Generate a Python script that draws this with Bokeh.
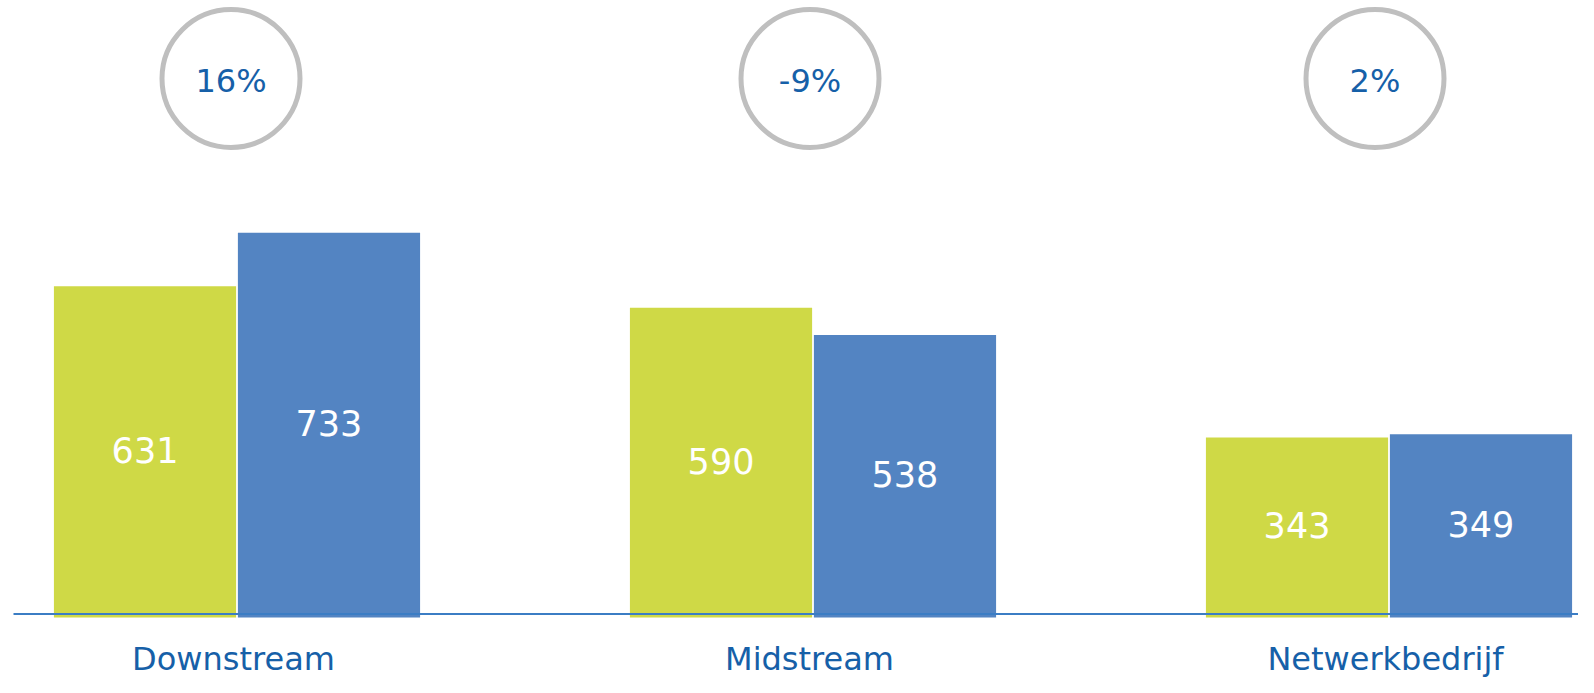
from bokeh.plotting import figure
from bokeh.models import Range1d, ColumnDataSource
from bokeh.core.properties import value
from bokeh.embed import file_html
from bokeh.resources import INLINE

# ---- data ----
categories = ["Downstream", "Midstream", "Netwerkbedrijf"]
series_prev = [631, 590, 343]   # green
series_curr = [733, 538, 349]   # blue
changes = ["16%", "-9%", "2%"]

# ---- layout / style ----
W, H = 1578, 677
PX_X = 576.0            # px per category unit
PX_Y = 0.525            # px per value unit
ZERO_FIG_Y = 617        # figure px of value 0
X0 = -236.5 / PX_X
X1 = X0 + W / PX_X
Y1 = ZERO_FIG_Y / PX_Y
Y0 = -(H - ZERO_FIG_Y) / PX_Y
def py(px):  # px -> value units
    return px / PX_Y

GREEN = "#CFD946"
BLUE = "#5384C2"
TEXT_BLUE = "#1660A8"
RING = "#BFBFBF"
FONT = value("DejaVu Sans")

p = figure(width=W, height=H, x_range=Range1d(X0, X1), y_range=Range1d(Y0, Y1),
           output_backend="svg", toolbar_location=None, min_border=0,
           x_axis_location=None, y_axis_location=None,
           outline_line_color=None, background_fill_color="white")
p.grid.visible = False

idx = list(range(len(categories)))
dodge = 0.1597
bw = 0.3163
label_shift = -3.5 / PX_X

src = ColumnDataSource(dict(
    x=[i + label_shift for i in idx],
    xg=[i - dodge for i in idx],
    xb=[i + dodge for i in idx],
    prev=series_prev,
    curr=series_curr,
    prev_mid=[v / 2 + py(2) for v in series_prev],
    curr_mid=[v / 2 + py(2) for v in series_curr],
    prev_lbl=[str(v) for v in series_prev],
    curr_lbl=[str(v) for v in series_curr],
    cat=categories,
    chg=changes,
))

p.vbar(x="xg", top="prev", bottom=0, width=bw, color=GREEN, line_color=None, source=src)
p.vbar(x="xb", top="curr", bottom=0, width=bw, color=BLUE, line_color=None, source=src)

# baseline line
p.line(x=[X0 + 13 / PX_X, X1], y=[py(3.5), py(3.5)], line_color="#3B7DC4", line_width=2)

# value labels
p.text(x="xg", y="prev_mid", text="prev_lbl", source=src, text_color="white",
       text_font=FONT, text_font_size="35px", text_align="center", text_baseline="alphabetic")
p.text(x="xb", y="curr_mid", text="curr_lbl", source=src, text_color="white",
       text_font=FONT, text_font_size="35px", text_align="center", text_baseline="alphabetic")

# category labels
p.text(x="x", y=-py(41), text="cat", source=src, text_color=TEXT_BLUE,
       text_font=FONT, text_font_size="32px", text_align="center", text_baseline="alphabetic")

# change circles
circle_shift = [-6 / PX_X, -3 / PX_X, -14 / PX_X]
circle_y = py(ZERO_FIG_Y - 78)
csrc = ColumnDataSource(dict(
    x=[i + s for i, s in zip(idx, circle_shift)],
    y=[circle_y] * len(idx),
    ty=[circle_y - py(2.5)] * len(idx),
    chg=changes,
))
p.scatter(x="x", y="y", source=csrc, marker="circle", size=138,
          fill_color="white", line_color=RING, line_width=5)
p.text(x="x", y="ty", text="chg", source=csrc, text_color=TEXT_BLUE,
       text_font=FONT, text_font_size="32px", text_align="center", text_baseline="alphabetic")

open("out.html", "w").write(file_html(p, INLINE))
